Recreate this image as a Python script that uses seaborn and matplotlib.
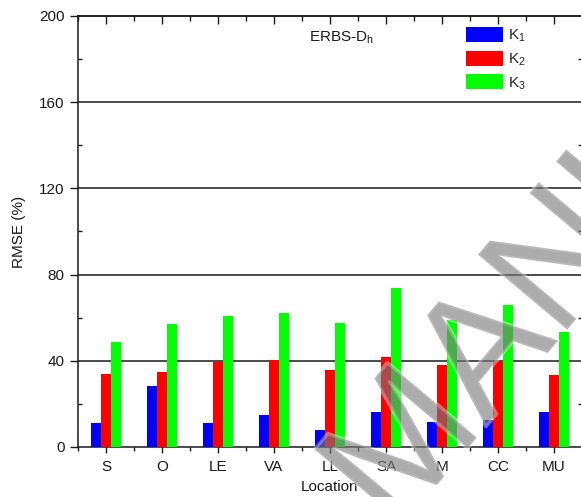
import matplotlib
matplotlib.use("Agg")
import matplotlib.pyplot as plt
import matplotlib.patheffects as pe
from matplotlib.patches import Patch
from matplotlib.ticker import MultipleLocator, FixedLocator
import seaborn as sns
import pandas as pd

# RMSE (%) of the ERBS model for diffuse irradiance, per location and coefficient set
locations = ["S", "O", "LE", "VA", "LL", "SA", "M", "CC", "MU"]
k1 = [11.3, 28.2, 11.3, 15.0, 7.9, 16.1, 11.4, 12.5, 16.4]
k2 = [33.9, 34.9, 39.3, 40.2, 35.7, 41.9, 38.0, 39.9, 33.3]
k3 = [48.7, 57.1, 60.8, 62.3, 57.4, 73.6, 59.1, 65.9, 53.5]
series_names = ["K1", "K2", "K3"]
series_labels = [r"K$_\mathregular{1}$", r"K$_\mathregular{2}$", r"K$_\mathregular{3}$"]
y_ticks = [0, 40, 80, 120, 160, 200]
colors = ["#0000ff", "#ff0000", "#00ff00"]

df = pd.DataFrame({
    "Location": locations * 3,
    "Series": [s for s in series_names for _ in locations],
    "RMSE": k1 + k2 + k3,
})

sns.set_theme(style="white")
plt.rcParams["font.family"] = ["Liberation Sans", "DejaVu Sans"]
plt.rcParams["mathtext.fontset"] = "custom"
plt.rcParams["mathtext.rm"] = "Liberation Sans"

W, H = 581, 497
fig = plt.figure(figsize=(W / 100, H / 100), dpi=100)
ax = fig.add_axes([78 / W, 1 - 447 / H, 504 / W, 431 / H])

sns.barplot(data=df, x="Location", y="RMSE", hue="Series", order=locations,
            hue_order=series_names, palette=colors, width=0.54,
            saturation=1, linewidth=0, legend=False, ax=ax, zorder=3)

ax.set_xlim(-0.5, len(locations) - 0.5)
ax.set_ylim(0, 200)

# horizontal reference lines
for v in y_ticks[1:-1]:
    ax.axhline(v, color="#1a1a1a", lw=1.1, zorder=2)

for s in ax.spines.values():
    s.set_visible(True)
    s.set_color("#1a1a1a")
    s.set_linewidth(1.1)

ax.yaxis.set_major_locator(FixedLocator(y_ticks))
ax.yaxis.set_minor_locator(MultipleLocator(20))
ax.xaxis.set_minor_locator(FixedLocator([i + 0.5 for i in range(-1, len(locations))]))
ax.tick_params(axis="y", which="major", direction="out", length=5.8, width=1.0,
               color="#1a1a1a", labelsize=11, pad=4, left=True, right=True,
               labelcolor="#1a1a1a")
ax.tick_params(axis="y", which="minor", direction="in", length=3, width=1.0,
               color="#1a1a1a", left=True, right=True)
ax.tick_params(axis="x", which="major", direction="out", length=4.5, width=1.0,
               color="#1a1a1a", labelsize=11, pad=5, bottom=True, top=False,
               labelcolor="#1a1a1a")
ax.tick_params(axis="x", which="minor", direction="out", length=3, width=1.0,
               color="#1a1a1a", bottom=True, top=False)

# top axis ticks point into the plot
top = ax.secondary_xaxis("top")
top.xaxis.set_major_locator(FixedLocator(list(range(len(locations)))))
top.xaxis.set_minor_locator(FixedLocator([i + 0.5 for i in range(-1, len(locations))]))
top.tick_params(which="major", direction="in", length=5.8, width=1.0, color="#1a1a1a",
                labeltop=False)
top.tick_params(which="minor", direction="in", length=3.6, width=1.0, color="#1a1a1a")
top.spines["top"].set_linewidth(1.1)
top.spines["top"].set_color("#1a1a1a")

ax.set_xlabel("Location", fontsize=11, color="#1a1a1a", labelpad=4)
ax.set_ylabel("RMSE (%)", fontsize=11, color="#1a1a1a", labelpad=9)

ax.text(309 / W, 1 - 38 / H, r"ERBS-D$_\mathregular{h}$", transform=fig.transFigure,
        fontsize=11, color="#1a1a1a", ha="left", va="center")

handles = [Patch(facecolor=c, edgecolor="none") for c in colors]
ax.legend(handles, series_labels, loc="upper left",
          bbox_to_anchor=(466 / W, 1 - 27 / H), bbox_transform=fig.transFigure,
          frameon=False, fontsize=11, handlelength=2.42, handleheight=1.15,
          handletextpad=0.35, labelspacing=0.4, borderpad=0, borderaxespad=0)

# diagonal stamp across the lower right
fig.text(395 / W, 1 - 535 / H, "MANUSCRIPT", rotation=50, rotation_mode="anchor",
         ha="left", va="baseline", fontsize=122, color="#7a7a7a", alpha=0.38,
         path_effects=[pe.withStroke(linewidth=2.5, foreground="white")], zorder=10)

fig.savefig("out.png", dpi=100)
